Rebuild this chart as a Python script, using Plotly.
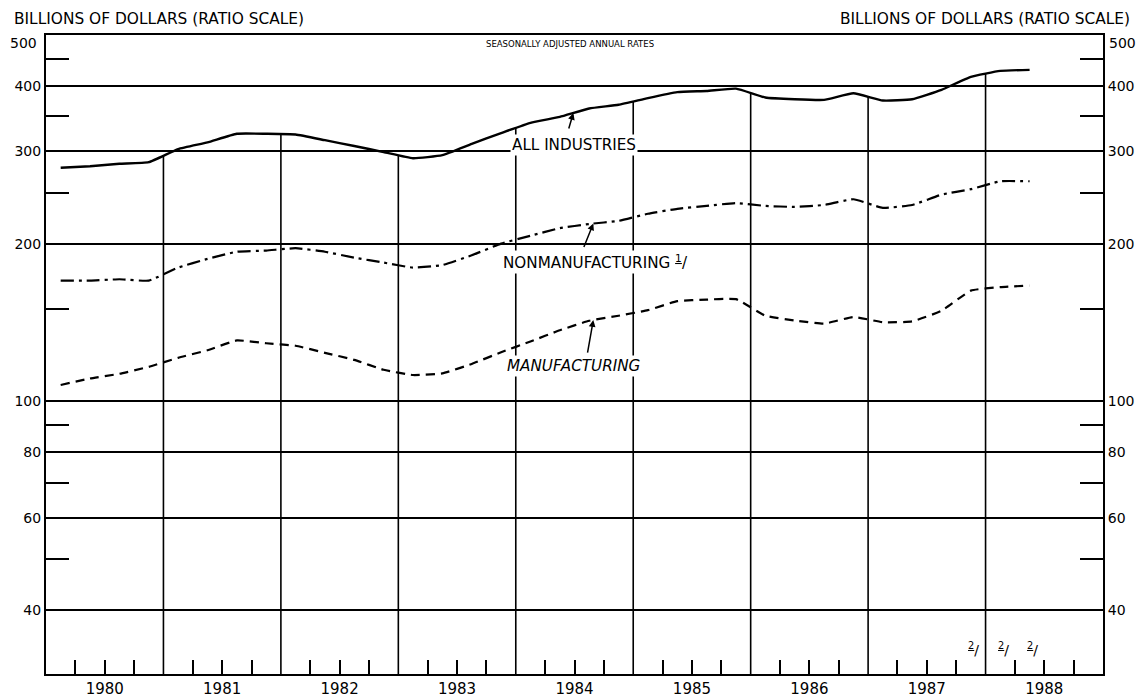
import numpy as np
import plotly.graph_objects as go

# ---------------- data ----------------
quarter_labels = [
    "1980-Q1", "1980-Q2", "1980-Q3", "1980-Q4",
    "1981-Q1", "1981-Q2", "1981-Q3", "1981-Q4",
    "1982-Q1", "1982-Q2", "1982-Q3", "1982-Q4",
    "1983-Q1", "1983-Q2", "1983-Q3", "1983-Q4",
    "1984-Q1", "1984-Q2", "1984-Q3", "1984-Q4",
    "1985-Q1", "1985-Q2", "1985-Q3", "1985-Q4",
    "1986-Q1", "1986-Q2", "1986-Q3", "1986-Q4",
    "1987-Q1", "1987-Q2", "1987-Q3", "1987-Q4",
    "1988-Q1", "1988-Q2",
]
all_industries = [279, 281, 284, 286, 303, 312, 324, 324, 323, 315, 307, 299,
                  291, 295, 310, 325, 340, 349, 362, 368, 379, 389, 391, 395,
                  380, 377, 376, 387, 375, 377, 393, 416, 427, 429]
nonmanufacturing = [170, 170, 171, 170, 180, 187, 193, 194, 196, 193, 188, 184,
                    180, 182, 190, 200, 207, 214, 218, 221, 228, 233, 236, 239,
                    236, 235, 237, 243, 234, 237, 248, 254, 263, 263]
manufacturing = [107.5, 110.6, 112.9, 116.4, 121.1, 125.2, 130.7, 129.1, 127.7,
                 123.8, 120.0, 114.9, 112.3, 113.1, 117.9, 124.1, 130.1, 136.7,
                 142.5, 145.7, 149.3, 155.3, 156.4, 156.7, 145.7, 142.7, 140.7,
                 144.9, 141.6, 142.1, 148.9, 162.7, 165.2, 166.3]
year_labels = ["1980", "1981", "1982", "1983", "1984", "1985", "1986", "1987", "1988"]
y_tick_values = [40, 60, 80, 100, 200, 300, 400]
y_tick_labels = ["40", "60", "80", "100", "200", "300", "400"]
y_top_label = "500"
y_minor_values = [50, 70, 90, 150, 250, 350, 450]
projected_quarters = ["1987-Q4", "1988-Q1", "1988-Q2"]

# ---------------- helpers ----------------
def qpos(label):
    yr, q = label.split("-Q")
    return int(yr) + (int(q) - 1) / 4 + 0.125

x = [qpos(l) for l in quarter_labels]
Y_MIN, Y_MAX = 30.2, 500
X_MIN, X_MAX = int(year_labels[0]), int(year_labels[-1]) + 1

def interp_log(series, xv):
    return float(np.interp(xv, x, np.log10(series)))

FONT = "DejaVu Sans"
BLACK = "black"

fig = go.Figure()

# year boundary vertical lines, from bottom up to the ALL INDUSTRIES curve
vx, vy = [], []
for yr in year_labels[1:]:
    b = int(yr)
    top = 10 ** interp_log(all_industries, b)
    vx += [b, b, None]
    vy += [Y_MIN, top, None]
fig.add_trace(go.Scatter(x=vx, y=vy, mode="lines",
                         line=dict(color=BLACK, width=1.6),
                         hoverinfo="skip", showlegend=False))

fig.add_trace(go.Scatter(x=x, y=all_industries, mode="lines", name="All industries",
                         line=dict(color=BLACK, width=2.4, shape="spline", smoothing=0.4),
                         showlegend=False))
fig.add_trace(go.Scatter(x=x, y=nonmanufacturing, mode="lines", name="Nonmanufacturing",
                         line=dict(color=BLACK, width=2.2, dash="13px,5px,3px,5px",
                                   shape="spline", smoothing=0.4),
                         showlegend=False))
fig.add_trace(go.Scatter(x=x, y=manufacturing, mode="lines", name="Manufacturing",
                         line=dict(color=BLACK, width=2.2, dash="9px,6px",
                                   shape="spline", smoothing=0.4),
                         showlegend=False))
# invisible trace to anchor right axis
fig.add_trace(go.Scatter(x=x, y=all_industries, yaxis="y2", mode="lines",
                         line=dict(color="rgba(0,0,0,0)"), hoverinfo="skip",
                         showlegend=False))

quarter_ticks = [int(y) + f for y in year_labels for f in (0.25, 0.5, 0.75)]
yrange = [np.log10(Y_MIN), np.log10(Y_MAX)]

yaxis_common = dict(
    type="log", range=yrange, tickvals=y_tick_values, ticktext=y_tick_labels,
    ticks="", showline=True, linecolor=BLACK, linewidth=2,
    tickfont=dict(family=FONT, size=14, color=BLACK), zeroline=False,
    minor=dict(tickvals=y_minor_values, ticks="inside", ticklen=23,
               tickwidth=2, tickcolor=BLACK, showgrid=False),
)

fig.update_layout(
    width=1140, height=700, template="none",
    paper_bgcolor="white", plot_bgcolor="white",
    margin=dict(l=46, r=37, t=35, b=26),
    xaxis=dict(range=[X_MIN, X_MAX], showgrid=False, zeroline=False,
               showline=True, linecolor=BLACK, linewidth=2, mirror=True,
               tickvals=[int(y) + 0.5 for y in year_labels], ticktext=year_labels,
               ticks="", tickfont=dict(family=FONT, size=15, color=BLACK),
               minor=dict(tickvals=quarter_ticks, ticks="inside", ticklen=14,
                          tickwidth=1.5, tickcolor=BLACK, showgrid=False)),
    yaxis=dict(**yaxis_common, side="left", showgrid=True, gridcolor=BLACK,
               gridwidth=1.5),
    yaxis2=dict(**yaxis_common, side="right", overlaying="y", showgrid=False),
)

ann = []
def text_ann(txt, xv, yv, xref="x", yref="y", xanchor="left", size=15.5,
             bg="white", **kw):
    d = dict(text=txt, x=xv, y=yv, xref=xref, yref=yref, xanchor=xanchor,
             yanchor="middle", showarrow=False,
             font=dict(family=FONT, size=size, color=BLACK), bgcolor=bg,
             borderpad=1)
    d.update(kw)
    ann.append(d)

# headings
text_ann("BILLIONS OF DOLLARS (RATIO SCALE)", (12 - 46) / 1057, (674 - 19) / 639,
         xref="paper", yref="paper", xanchor="left", size=15.4, bg=None)
text_ann("BILLIONS OF DOLLARS (RATIO SCALE)", (1132 - 46) / 1057, (674 - 19) / 639,
         xref="paper", yref="paper", xanchor="right", size=15.4, bg=None)
text_ann("SEASONALLY ADJUSTED ANNUAL RATES", 0.4957, (674 - 44) / 639,
         xref="paper", yref="paper", xanchor="center", size=8.5, bg=None)
# top 500 labels (set slightly below the top border as in the original)
text_ann(y_top_label, -0.007, 1, xref="paper", yref="paper", xanchor="right",
         size=14, bg=None, yshift=-8)
text_ann(y_top_label, 1.0038, 1, xref="paper", yref="paper", xanchor="left",
         size=14, bg=None, yshift=-8)

# series labels
text_ann("ALL INDUSTRIES", 1983.95, np.log10(308), size=15.2)
text_ann("NONMANUFACTURING <u><sup>1</sup></u>/", 1983.87, np.log10(184.8), size=15.2)
text_ann("<i>MANUFACTURING</i>", 1983.91, np.log10(116.6), size=15.2)

# arrows to curves
def arrow(series, xv, ax, ay):
    ann.append(dict(x=xv, y=interp_log(series, xv), xref="x", yref="y", text="",
                    showarrow=True, arrowhead=2, arrowsize=0.9, arrowwidth=1.5,
                    arrowcolor=BLACK, ax=ax, ay=ay))

arrow(all_industries, 1984.49, -5, 17)
arrow(nonmanufacturing, 1984.66, -10, 25)
arrow(manufacturing, 1984.66, -6, 34)

# projected-quarter footnote markers
for q in projected_quarters:
    text_ann("<u><sup>2</sup></u>/", qpos(q), (674 - 649) / 639, yref="paper",
             xanchor="center", size=14, bg=None, xshift=3)

fig.update_layout(annotations=ann)
fig.write_html("out.html", config={"displayModeBar": False},
               post_script="document.body.style.margin='0px';document.body.style.padding='0px';")
